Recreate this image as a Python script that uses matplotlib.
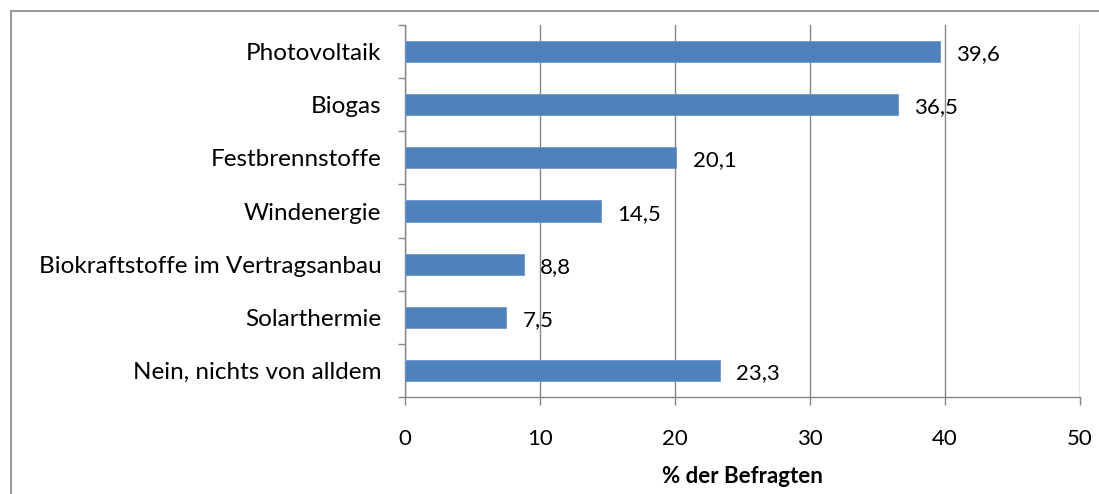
import matplotlib
matplotlib.use("Agg")
import matplotlib.pyplot as plt
from matplotlib.patches import Rectangle

categories = ["Photovoltaik", "Biogas", "Festbrennstoffe", "Windenergie",
              "Biokraftstoffe im Vertragsanbau", "Solarthermie", "Nein, nichts von alldem"]
values = [39.6, 36.5, 20.1, 14.5, 8.8, 7.5, 23.3]
xticks = [0, 10, 20, 30, 40, 50]
xlabel = "% der Befragten"

plt.rcParams['font.family'] = ['Lato', 'DejaVu Sans']
FS = 17.5
FSN = 16

W, H = 1099, 494
fig = plt.figure(figsize=(W/100, H/100), dpi=100)
ax = fig.add_axes([405/W, 1 - 397/H, (1080-405)/W, (397-25)/H])

n = len(categories)
ypos = list(range(n))[::-1]
ax.barh(ypos, values, height=0.4, color="#4F81BD", edgecolor="#6E96CB", linewidth=0.6, zorder=3)
for y, v in zip(ypos, values):
    ax.text(v + 1.2, y - 0.05, f"{v:.1f}".replace(".", ","), va="center", ha="left", fontsize=FSN, color="black")

ax.set_xlim(0, 50)
ax.set_ylim(-0.5, n - 0.5)
ax.set_xticks(xticks)
ax.set_xticklabels([str(t) for t in xticks], fontsize=FSN)
ax.set_yticks(ypos)
ax.set_yticklabels(categories, fontsize=FS)
ax.set_yticks([i - 0.5 for i in range(n + 1)], minor=True)
ax.tick_params(axis='y', which='major', length=0, pad=17)
ax.tick_params(axis='y', which='minor', length=5, color="#868686", width=1)
ax.tick_params(axis='x', which='major', length=6, color="#868686", width=1, pad=17, direction='out')
ax.grid(axis='x', color="#868686", linewidth=1, zorder=0)
for s in ["top", "right"]:
    ax.spines[s].set_visible(False)
for s in ["left", "bottom"]:
    ax.spines[s].set_color("#868686")
    ax.spines[s].set_linewidth(1)
ax.set_xlabel(xlabel, fontsize=FSN, fontweight="bold", labelpad=12)

fig.patches.append(Rectangle((11/W, -0.1), 1.2, 1.1 - 11/H, transform=fig.transFigure,
                             fill=False, edgecolor="#868686", linewidth=1.2))

fig.savefig("out.png", dpi=100)
